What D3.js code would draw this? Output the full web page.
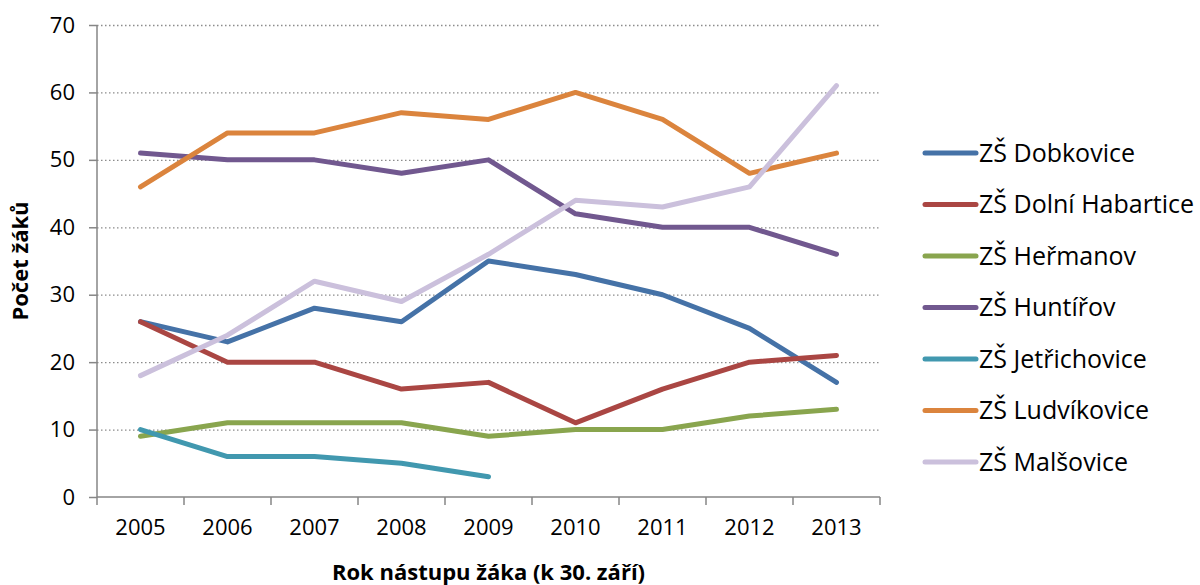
<!DOCTYPE html>
<html>
<head>
<meta charset="utf-8">
<script src="https://cdn.jsdelivr.net/npm/d3@7"></script>
<style>
  body { margin: 0; background: #fff; }
  text { font-family: "Open Sans", "Noto Sans", sans-serif; fill: #000; }
</style>
</head>
<body>
<div id="chart"></div>
<script>
const years = ["2005", "2006", "2007", "2008", "2009", "2010", "2011", "2012", "2013"];
const seriesNames = ["ZŠ Dobkovice", "ZŠ Dolní Habartice", "ZŠ Heřmanov", "ZŠ Huntířov", "ZŠ Jetřichovice", "ZŠ Ludvíkovice", "ZŠ Malšovice"];
const dobkovice = [26, 23, 28, 26, 35, 33, 30, 25, 17];
const dolniHabartice = [26, 20, 20, 16, 17, 11, 16, 20, 21];
const hermanov = [9, 11, 11, 11, 9, 10, 10, 12, 13];
const huntirov = [51, 50, 50, 48, 50, 42, 40, 40, 36];
const jetrichovice = [10, 6, 6, 5, 3, null, null, null, null];
const ludvikovice = [46, 54, 54, 57, 56, 60, 56, 48, 51];
const malsovice = [18, 24, 32, 29, 36, 44, 43, 46, 61];
const yTicks = [0, 10, 20, 30, 40, 50, 60, 70];
const colors = ["#4572a7", "#aa4643", "#89a54e", "#71588f", "#4198af", "#db843d", "#cbc0dc"];

const seriesValues = [dobkovice, dolniHabartice, hermanov, huntirov, jetrichovice, ludvikovice, malsovice];
const series = seriesNames.map((name, i) => ({ name, values: seriesValues[i], color: colors[i] }));

const WIDTH = 1200, HEIGHT = 585;
const MARGIN = { LEFT: 97, TOP: 25, RIGHT: 320, BOTTOM: 88 };
const innerH = HEIGHT - MARGIN.TOP - MARGIN.BOTTOM;
const PLOT_W = 783;

const svg = d3.select("#chart")
  .append("svg")
  .attr("width", WIDTH)
  .attr("height", HEIGHT);

const g = svg.append("g")
  .attr("transform", `translate(${MARGIN.LEFT}, ${MARGIN.TOP})`);

const x = d3.scaleBand().domain(years).range([0, PLOT_W]);
const y = d3.scaleLinear().domain([0, 70]).range([innerH, 0]);

// GRID
g.append("g")
  .selectAll("line")
  .data(yTicks.filter((d) => d > 0))
  .enter()
  .append("line")
  .attr("x1", 0)
  .attr("x2", PLOT_W)
  .attr("y1", (d) => y(d) + 0.5)
  .attr("y2", (d) => y(d) + 0.5)
  .attr("stroke", "#8c8c8c")
  .attr("stroke-width", 1.3)
  .attr("stroke-dasharray", "1.5,2.5");

// AXIS
const yAxis = g.append("g")
  .call(d3.axisLeft(y).tickValues(yTicks).tickSize(8).tickPadding(14).tickFormat(d3.format("d")));
yAxis.selectAll("line, path").attr("stroke", "#868686").attr("stroke-width", 1.5);
yAxis.select(".domain").attr("d", `M0,0V${innerH}`);
yAxis.selectAll("text").style("font-size", "22px").attr("fill", "#000");

const xAxis = g.append("g")
  .attr("transform", `translate(0, ${innerH})`)
  .call(d3.axisBottom(x).tickSize(0).tickPadding(22));
xAxis.select(".domain").attr("stroke", "#868686").attr("stroke-width", 1.5).attr("d", `M0,0H${PLOT_W}`);
xAxis.selectAll("text").style("font-size", "22px").attr("fill", "#000");
xAxis.selectAll(".xb")
  .data(d3.range(years.length + 1))
  .enter()
  .append("line")
  .attr("x1", (i) => i * x.step())
  .attr("x2", (i) => i * x.step())
  .attr("y1", 0)
  .attr("y2", 8)
  .attr("stroke", "#868686")
  .attr("stroke-width", 1.5);

// LINES
const line = d3.line()
  .defined((d) => d !== null)
  .x((d, i) => x(years[i]) + x.bandwidth() / 2)
  .y((d) => y(d));

g.selectAll(".series")
  .data(series)
  .enter()
  .append("path")
  .attr("d", (d) => line(d.values))
  .attr("fill", "none")
  .attr("stroke", (d) => d.color)
  .attr("stroke-width", 5)
  .attr("stroke-linejoin", "round")
  .attr("stroke-linecap", "round");

// LABELS
svg.append("text")
  .attr("x", MARGIN.LEFT + PLOT_W / 2)
  .attr("y", 580)
  .attr("text-anchor", "middle")
  .style("font-size", "22px")
  .style("font-weight", "bold")
  .text("Rok nástupu žáka (k 30. září)");

svg.append("text")
  .attr("transform", "translate(28, 261) rotate(-90)")
  .attr("text-anchor", "middle")
  .style("font-size", "22px")
  .style("font-weight", "bold")
  .text("Počet žáků");

// LEGEND
const legend = svg.append("g").attr("transform", "translate(923, 153)");
const items = legend.selectAll(".item")
  .data(series)
  .enter()
  .append("g")
  .attr("transform", (d, i) => `translate(0, ${i * 51.5})`);
items.append("line")
  .attr("x1", 2).attr("x2", 53)
  .attr("y1", 0).attr("y2", 0)
  .attr("stroke", (d) => d.color)
  .attr("stroke-width", 5)
  .attr("stroke-linecap", "round");
items.append("text")
  .attr("x", 56)
  .attr("y", 0)
  .attr("dy", "0.35em")
  .style("font-size", "25px")
  .text((d) => d.name);
</script>
</body>
</html>
